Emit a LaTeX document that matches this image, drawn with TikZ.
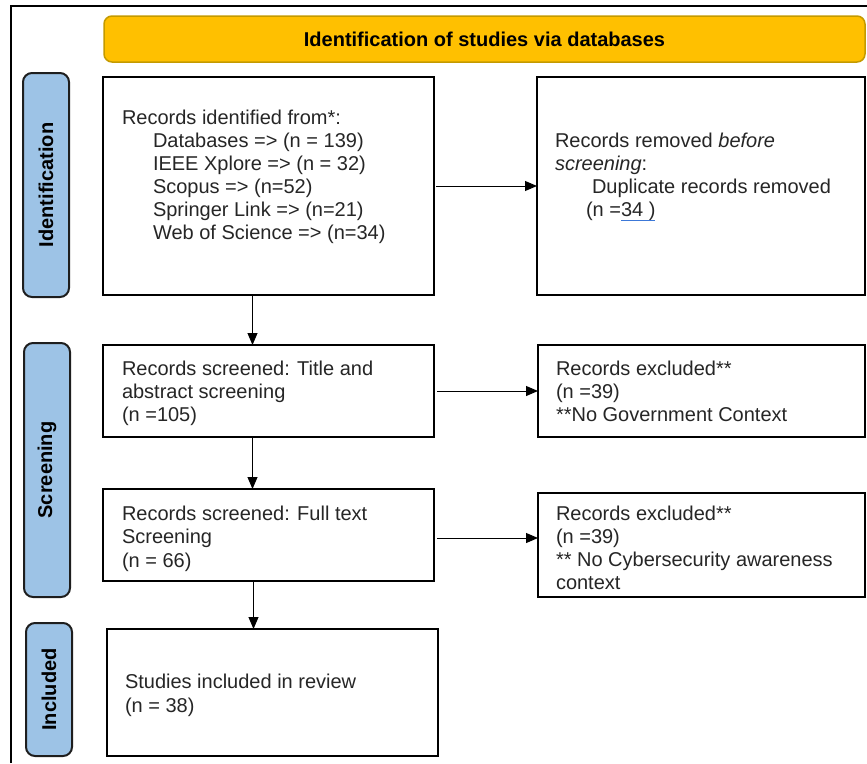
\documentclass[tikz,border=0pt]{standalone}
\usepackage{fontspec}
\setmainfont{Liberation Sans}
\usetikzlibrary{arrows.meta,positioning}
\definecolor{hdrfill}{HTML}{FFC000}
\definecolor{hdrdraw}{HTML}{C49A00}
\definecolor{labfill}{HTML}{9DC3E6}
\definecolor{labdraw}{HTML}{1E1E1E}
\definecolor{linkblue}{HTML}{3C78D8}
\tikzset{
  box/.style={draw=black, line width=2pt, fill=white, inner sep=0pt, outer sep=0pt, anchor=north west},
  hdrbox/.style={draw=hdrdraw, line width=1.5pt, fill=hdrfill, rounded corners=8pt, inner sep=0pt, outer sep=0pt, anchor=north west, font=\fontsize{20}{23}\selectfont\bfseries},
  labbox/.style={draw=labdraw, line width=2pt, fill=labfill, rounded corners=9pt, inner sep=0pt, outer sep=0pt, anchor=north west},
  labtxt/.style={rotate=90, inner sep=0pt, font=\fontsize{20}{23}\selectfont\bfseries},
  txt/.style={anchor=base west, inner sep=0pt, outer sep=0pt, font=\fontsize{20}{23}\selectfont, text=black!85},
  arr/.style={line width=1pt, -{Triangle[length=12pt,width=10pt]}},
}
\begin{document}
\begin{tikzpicture}[x=1pt,y=-1pt]
\useasboundingbox (0,0) rectangle (867,763);
% outer frame
\coordinate (fr) at (11,6);
\draw[line width=1.5pt] (fr |- 0,763) -- (fr) -- (fr -| 867,0);
% header
\node[hdrbox, minimum width=761pt, minimum height=46pt] (hdr) at (104,16) {Identification of studies via databases};
% phase labels
\node[labbox, minimum width=46pt, minimum height=224pt] (idlab) at (23,73) {};
\node[labtxt] (idtxt) at (idlab.center) {Identification};
\node[labbox, minimum width=46pt, minimum height=254pt] (scrlab) at (24,343) {};
\node[labtxt] (scrtxt) at (scrlab.center) {Screening};
\node[labbox, minimum width=46pt, minimum height=133pt] (inclab) at (26,623) {};
\node[labtxt] (inctxt) at (inclab.center) {Included};
% boxes
\node[box, minimum width=331pt, minimum height=218pt] (rec) at (103,77) {};
\node[box, minimum width=328pt, minimum height=218pt] (rem) at (537,77) {};
\node[box, minimum width=331pt, minimum height=92pt] (scr1) at (103,345) {};
\node[box, minimum width=327pt, minimum height=92pt] (exc1) at (538,345) {};
\node[box, minimum width=331pt, minimum height=92pt] (scr2) at (103,489) {};
\node[box, minimum width=327pt, minimum height=104pt] (exc2) at (538,493) {};
\node[box, minimum width=331pt, minimum height=127pt] (inc) at (107,629) {};
% texts: records identified
\node[txt] (rec1) at (122,124) {Records identified from*:};
\node[txt] (rec2) at (153,147) {Databases => (n = 139)};
\node[txt] (rec3) at (153,170) {IEEE Xplore => (n = 32)};
\node[txt] (rec4) at (153,193) {Scopus => (n=52)};
\node[txt] (rec5) at (153,216) {Springer Link => (n=21)};
\node[txt] (rec6) at (153,239) {Web of Science => (n=34)};
% records removed
\node[txt] (rem1) at (555,147) {Records removed \textit{before}};
\node[txt] (rem2) at (555,170) {\textit{screening}:};
\node[txt] (rem3) at (592,193) {Duplicate records removed};
\node[txt] (rem4) at (586,216) {(n =};
\node[txt, anchor=base west] (rem5) at (rem4.base east) {34 )};
\draw[linkblue, line width=1pt] ([yshift=-4pt]rem5.base west) -- ([yshift=-4pt]rem5.base east);
% screening 1
\node[txt] (s11) at (122,375) {Records screened: Title and};
\node[txt] (s12) at (122,398) {abstract screening};
\node[txt] (s13) at (122,421) {(n =105)};
\node[txt] (e11) at (556,375) {Records excluded**};
\node[txt] (e12) at (556,398) {(n =39)};
\node[txt] (e13) at (556,421) {**No Government Context};
% screening 2
\node[txt] (s21) at (122,520) {Records screened: Full text};
\node[txt] (s22) at (122,543) {Screening};
\node[txt] (s23) at (122,567) {(n = 66)};
\node[txt] (e21) at (556,520) {Records excluded**};
\node[txt] (e22) at (556,543) {(n =39)};
\node[txt] (e23) at (556,566) {** No Cybersecurity awareness};
\node[txt] (e24) at (556,589) {context};
% included
\node[txt] (i1) at (125,688) {Studies included in review};
\node[txt] (i2) at (125,712) {(n = 38)};
% connectors
\draw[arr, shorten <=2pt] (rec.east) -- (rec.east -| rem.west);
\draw[arr, shorten <=3pt] (scr1.east) -- (scr1.east -| exc1.west);
\draw[arr, shorten <=3pt] ([yshift=-3pt]scr2.east) -- ([yshift=-3pt]scr2.east -| exc2.west);
\draw[arr] ([xshift=-16pt]rec.south) -- ([xshift=-16pt]rec.south |- scr1.north);
\draw[arr] ([xshift=-16pt]scr1.south) -- ([xshift=-16pt]scr1.south |- scr2.north);
\draw[arr] ([xshift=-15pt]scr2.south) -- ([xshift=-15pt]scr2.south |- inc.north);
\end{tikzpicture}
\end{document}
